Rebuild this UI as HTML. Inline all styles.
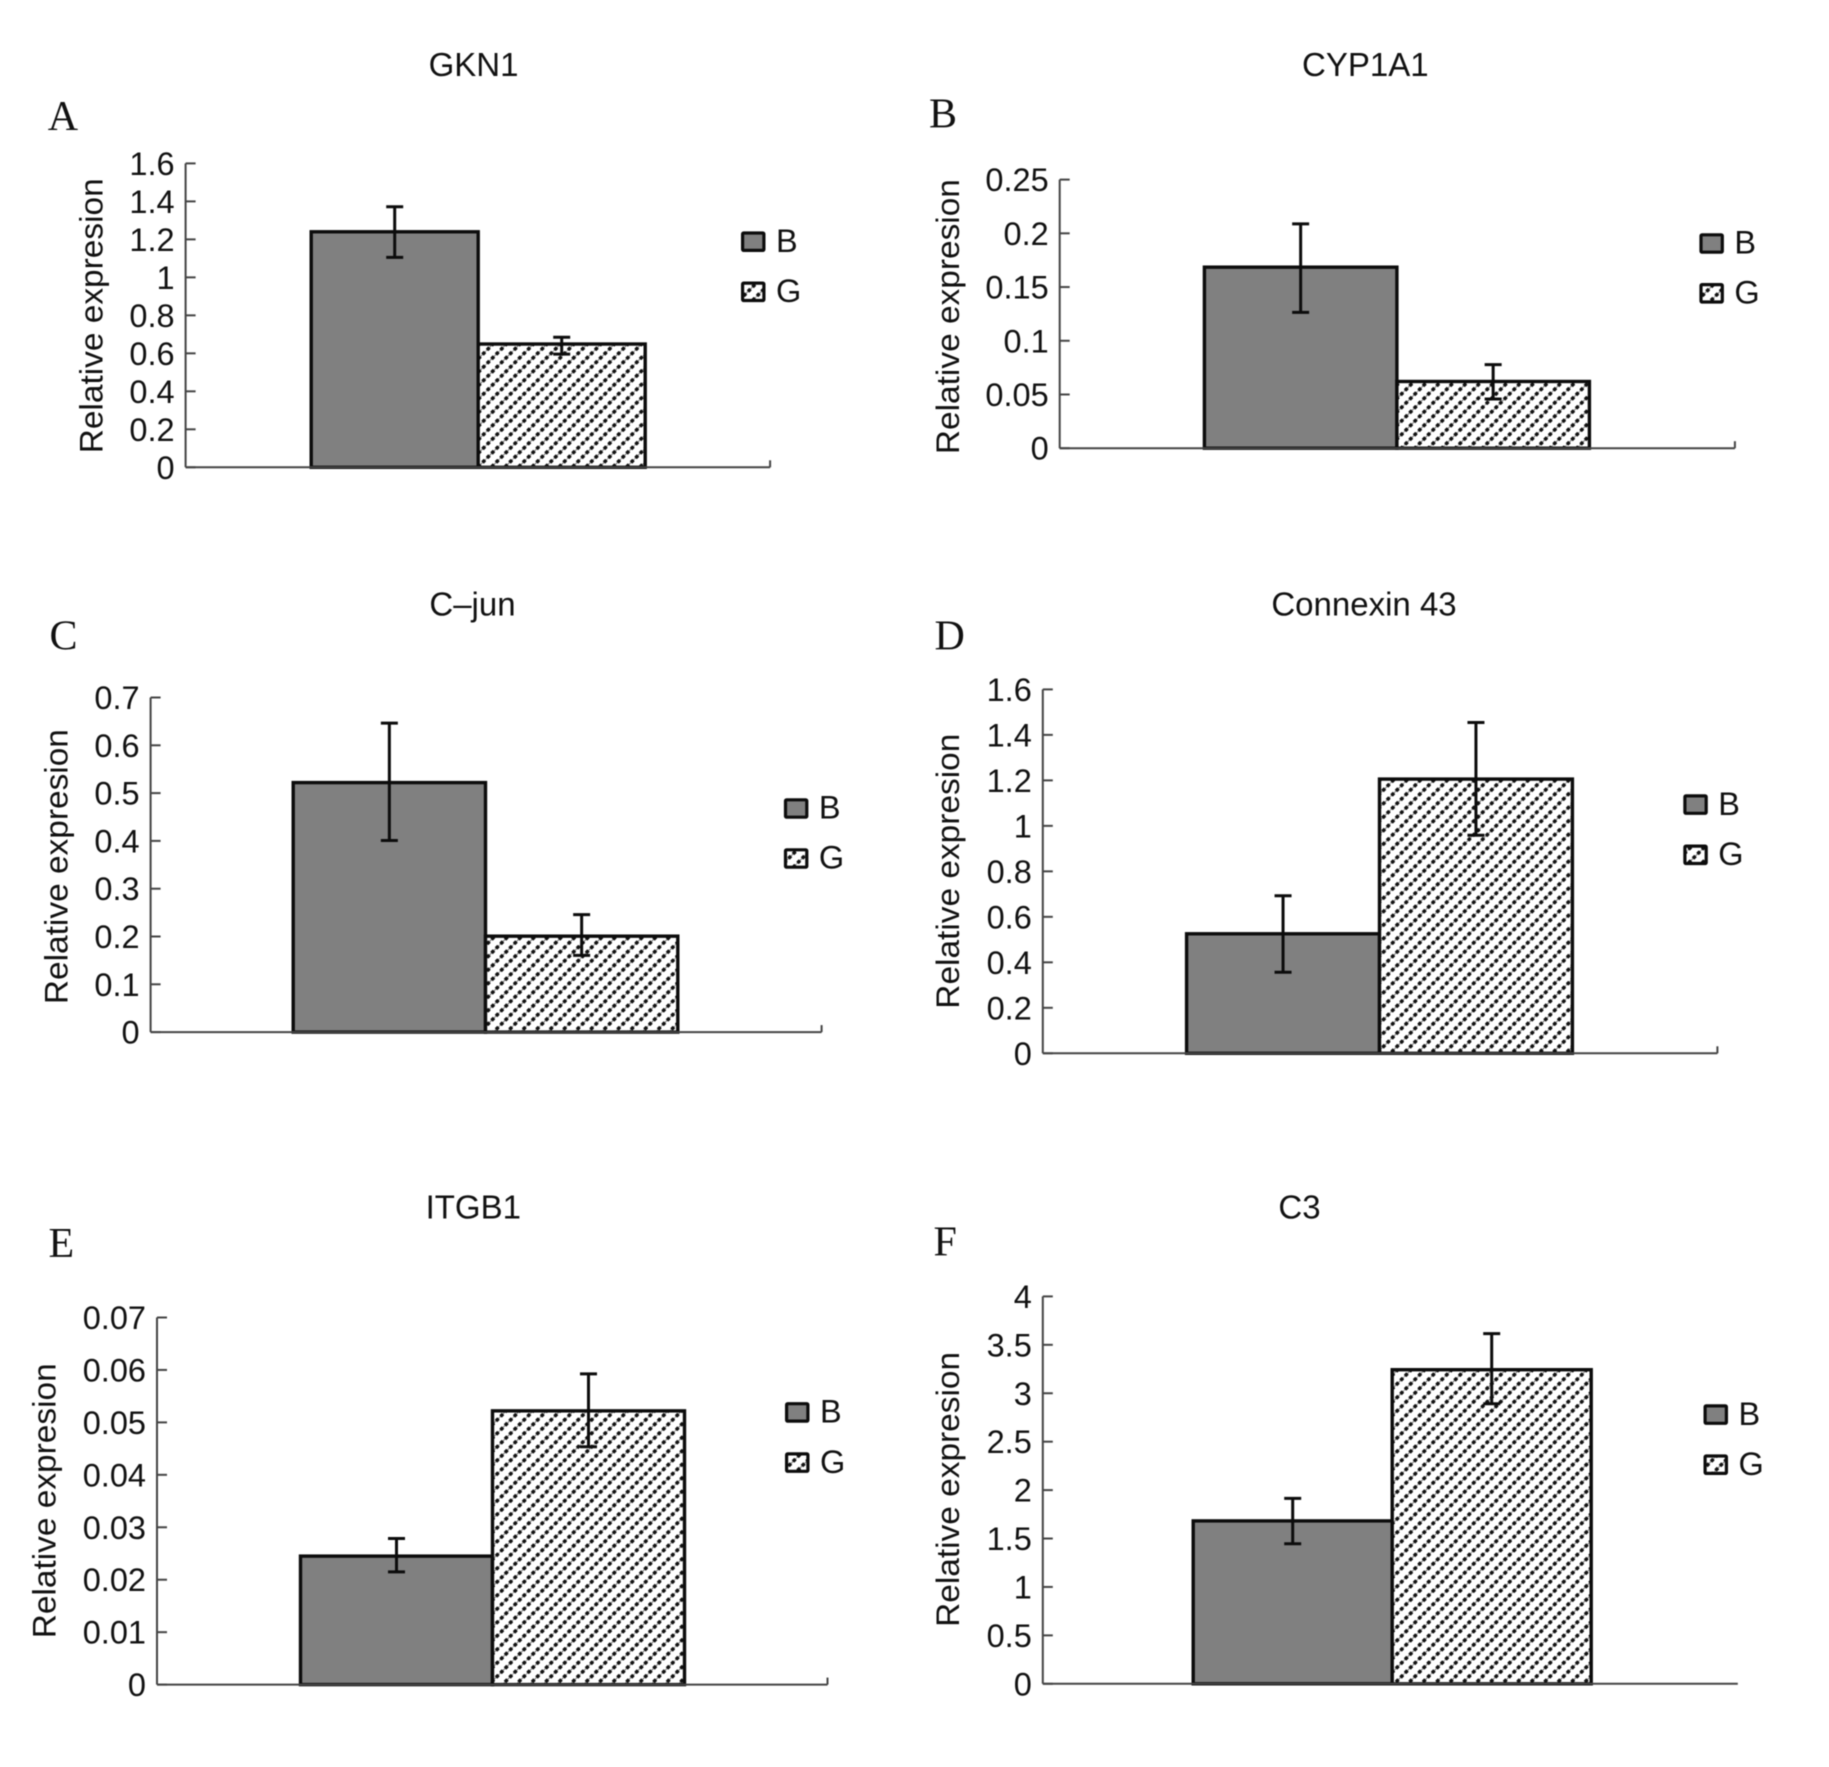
<!DOCTYPE html>
<html lang="en">
<head>
<meta charset="utf-8">
<title>Relative expression bar charts</title>
<style>
  html, body { margin: 0; padding: 0; background: #fff; }
  #figure { display: block; width: 1829px; height: 1767px; filter: blur(0.4px); }
  text { font-family: "Liberation Sans", sans-serif; fill: #111; }
  .letter { font-family: "Liberation Serif", serif; font-size: 42px; }
  .title { font-size: 33px; }
  .tick-label { font-size: 32.5px; text-anchor: end; }
  .y-title { font-size: 32px; }
  .legend-label { font-size: 32.5px; }
</style>
</head>
<body>
<svg id="figure" xmlns="http://www.w3.org/2000/svg" width="1829" height="1767" viewBox="0 0 1829 1767">
  <defs>
    <pattern id="hatch" patternUnits="userSpaceOnUse" width="13.5" height="13.5">
      <rect width="13.5" height="13.5" fill="#fff"/>
      <line x1="0" y1="13.5" x2="13.5" y2="0" stroke="#777" stroke-width="1"/>
      <polygon points="2.25,8.75 4.75,11.25 2.25,13.75 -0.25,11.25" fill="#111"/>
      <polygon points="6.75,4.25 9.25,6.75 6.75,9.25 4.25,6.75" fill="#111"/>
      <polygon points="11.25,-0.25 13.75,2.25 11.25,4.75 8.75,2.25" fill="#111"/>
    </pattern>
  </defs>
</svg>
<script>
// ---- Data ----
const panelLetters = ['A', 'B', 'C', 'D', 'E', 'F'];
const panelTitles = ['GKN1', 'CYP1A1', 'C\u2013jun', 'Connexin 43', 'ITGB1', 'C3'];
const seriesNames = ['B', 'G'];
const yAxisTitle = 'Relative expresion';

const ticksA = ['0', '0.2', '0.4', '0.6', '0.8', '1', '1.2', '1.4', '1.6'];
const ticksB = ['0', '0.05', '0.1', '0.15', '0.2', '0.25'];
const ticksC = ['0', '0.1', '0.2', '0.3', '0.4', '0.5', '0.6', '0.7'];
const ticksD = ['0', '0.2', '0.4', '0.6', '0.8', '1', '1.2', '1.4', '1.6'];
const ticksE = ['0', '0.01', '0.02', '0.03', '0.04', '0.05', '0.06', '0.07'];
const ticksF = ['0', '0.5', '1', '1.5', '2', '2.5', '3', '3.5', '4'];
const tickSets = [ticksA, ticksB, ticksC, ticksD, ticksE, ticksF];

const valuesB = [1.24, 0.1685, 0.522, 0.5255, 0.0245, 1.682];
const valuesG = [0.649, 0.0621, 0.2007, 1.2057, 0.0522, 3.243];
const errHighB = [1.372, 0.2088, 0.6465, 0.6928, 0.02785, 1.915];
const errLowB = [1.105, 0.1264, 0.4008, 0.3564, 0.0215, 1.446];
const errHighG = [0.685, 0.0778, 0.2457, 1.4545, 0.05925, 3.616];
const errLowG = [0.596, 0.0458, 0.1606, 0.9586, 0.04536, 2.892];

// ---- Layout (panel frames in page pixels, separate from the data) ----
const panelLayout = [
  { left: 185.6, right: 770.1, top: 163.4, zero: 467.3, center: 478.2, barW: 167, endTick: true, legendX: 741, legendB: 231.4, legendG: 281.5, letterX: 47.8, letterY: 130, titleX: 473.5, titleY: 76, yTitleX: 102.5, yTitleBottom: 453.3 },
  { left: 1059.7, right: 1734.9, top: 179.6, zero: 448.2, center: 1396.9, barW: 192.5, endTick: true, legendX: 1699.4, legendB: 233.2, legendG: 283, letterX: 929, letterY: 127.5, titleX: 1365.3, titleY: 76, yTitleX: 958.9, yTitleBottom: 454.1 },
  { left: 150.6, right: 821.6, top: 697.5, zero: 1032.1, center: 485.5, barW: 192.3, endTick: true, legendX: 783.9, legendB: 798.2, legendG: 848.2, letterX: 49.5, letterY: 649.3, titleX: 472.5, titleY: 615.5, yTitleX: 67.3, yTitleBottom: 1004.1 },
  { left: 1042.8, right: 1717.4, top: 689.4, zero: 1053.3, center: 1379.5, barW: 192.9, endTick: true, legendX: 1683.3, legendB: 794.3, legendG: 844.5, letterX: 934.5, letterY: 649.3, titleX: 1364, titleY: 615.4, yTitleX: 958.9, yTitleBottom: 1008.7 },
  { left: 157, right: 827.5, top: 1317.5, zero: 1684.6, center: 492.5, barW: 192, endTick: true, legendX: 785, legendB: 1402.1, legendG: 1452.3, letterX: 48.5, letterY: 1256.8, titleX: 473.3, titleY: 1218.6, yTitleX: 55.5, yTitleBottom: 1638.3 },
  { left: 1042.8, right: 1737.8, top: 1296.4, zero: 1683.8, center: 1392.2, barW: 199, endTick: false, legendX: 1703.5, legendB: 1404.3, legendG: 1454.4, letterX: 933.5, letterY: 1255.7, titleX: 1299.5, titleY: 1218.6, yTitleX: 958.9, yTitleBottom: 1626.9 }
];

const SVG_NS = 'http://www.w3.org/2000/svg';
const figure = document.getElementById('figure');

function make(tag, parent, attrs, content) {
  const node = document.createElementNS(SVG_NS, tag);
  Object.keys(attrs).forEach(function (k) { node.setAttribute(k, attrs[k]); });
  if (content !== undefined) node.textContent = content;
  parent.appendChild(node);
  return node;
}

function drawPanel(p) {
  const box = panelLayout[p];
  const ticks = tickSets[p];
  const yMax = Math.max.apply(null, ticks.map(Number));
  const yScale = function (v) { return box.zero - (v / yMax) * (box.zero - box.top); };
  const xBar = function (s) { return box.center + (s - 1) * box.barW; };
  const key = panelLetters[p].toLowerCase();
  let el;

  const group = make('g', figure, {});
  
  

  el = make('text', group, { x: box.letterX, y: box.letterY, class: 'letter' }, panelLetters[p]);
  
  

  el = make('text', group, { x: box.titleX, y: box.titleY, class: 'title', 'text-anchor': 'middle' }, panelTitles[p]);
  
  

  el = make('text', group, {
    class: 'y-title',
    transform: 'translate(' + box.yTitleX + ' ' + box.yTitleBottom + ') rotate(-90)',
    textLength: 275,
    lengthAdjust: 'spacingAndGlyphs'
  }, yAxisTitle);
  
  

  // bars
  const heights = [valuesB[p], valuesG[p]];
  const highs = [errHighB[p], errHighG[p]];
  const lows = [errLowB[p], errLowG[p]];
  heights.forEach(function (v, s) {
    const bar = make('rect', group, {
      x: xBar(s),
      y: yScale(v),
      width: box.barW,
      height: box.zero - yScale(v),
      fill: s === 0 ? '#808080' : 'url(#hatch)',
      stroke: '#0c0c0c',
      'stroke-width': 3.4
    });
    
    
  });

  // axes
  el = make('line', group, { x1: box.left, y1: box.top, x2: box.left, y2: box.zero, stroke: '#444', 'stroke-width': 2 });
  
  

  el = make('line', group, { x1: box.left, y1: box.zero, x2: box.right, y2: box.zero, stroke: '#444', 'stroke-width': 2 });
  
  

  if (box.endTick) {
    el = make('line', group, { x1: box.right, y1: box.zero, x2: box.right, y2: box.zero - 7, stroke: '#444', 'stroke-width': 2 });
    
    
  }

  // ticks and labels
  ticks.forEach(function (label) {
    const y = yScale(Number(label));
    const tick = make('line', group, { x1: box.left, y1: y, x2: box.left + 10, y2: y, stroke: '#444', 'stroke-width': 2 });
    
    
    const tickText = make('text', group, { x: box.left - 11, y: y + 11.5, class: 'tick-label' }, label);
    
    
  });

  // error bars
  heights.forEach(function (v, s) {
    const cx = xBar(s) + box.barW / 2;
    const yHigh = yScale(highs[s]);
    const yLow = yScale(lows[s]);
    const d = 'M' + cx + ' ' + yHigh + 'V' + yLow +
      'M' + (cx - 8.5) + ' ' + yHigh + 'H' + (cx + 8.5) +
      'M' + (cx - 8.5) + ' ' + yLow + 'H' + (cx + 8.5);
    const err = make('path', group, { d: d, fill: 'none', stroke: '#0c0c0c', 'stroke-width': 3 });
    
    
  });

  // legend
  seriesNames.forEach(function (name, s) {
    const ly = s === 0 ? box.legendB : box.legendG;
    const swatch = make('rect', group, {
      x: box.legendX + 1.6,
      y: ly + 1.6,
      width: 21.3,
      height: 17.4,
      rx: 1,
      fill: s === 0 ? '#808080' : 'url(#hatch)',
      stroke: '#0c0c0c',
      'stroke-width': 3.2
    });
    
    
    const legendText = make('text', group, { x: box.legendX + 35, y: ly + 20.5, class: 'legend-label' }, name);
    
    
  });
}

panelLetters.forEach(function (_, p) { drawPanel(p); });
</script>
</body>
</html>
